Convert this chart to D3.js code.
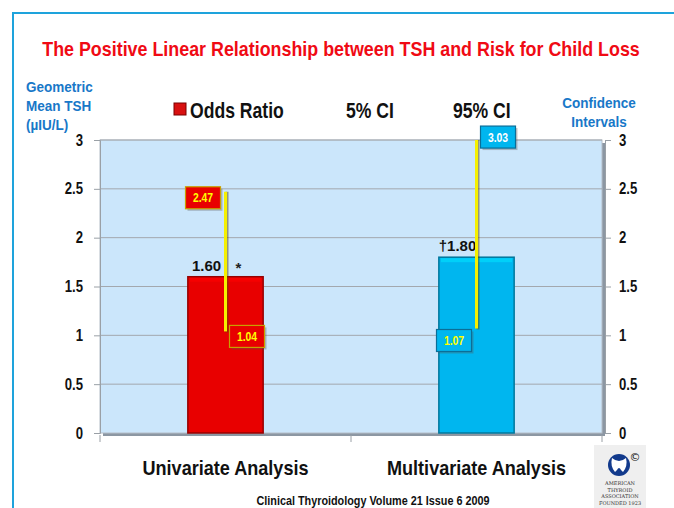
<!DOCTYPE html>
<html>
<head>
<meta charset="utf-8">
<script src="https://cdn.jsdelivr.net/npm/d3@7"></script>
<style>
  body { margin: 0; background: #fff; }
  svg { display: block; font-family: "Liberation Sans", Arial, sans-serif; }
</style>
</head>
<body>
<svg id="chart" width="674" height="508"></svg>
<script>
// chart values
const categories = ["Univariate Analysis", "Multivariate Analysis"];
const oddsRatio = [1.60, 1.80];
const ciLow = [1.04, 1.07];
const ciHigh = [2.47, 3.03];
const valueLabels = ["1.60", "\u20201.80"];
const barColors = ["#e80000", "#00b6ef"];
const yTicks = [0, 0.5, 1, 1.5, 2, 2.5, 3];
const legendItems = ["Odds Ratio", "5% CI", "95% CI"];

const svg = d3.select("svg#chart");
const W = 674, H = 508;
const margin = {top: 140, right: 72, bottom: 75, left: 100};
const plotW = W - margin.left - margin.right;  // 502
const plotH = H - margin.top - margin.bottom;  // 293

// squeeze text to look like the narrow font of the slide
function condense(sel, f) {
  sel.each(function() {
    const w = this.getComputedTextLength();
    d3.select(this).attr("textLength", w * f).attr("lengthAdjust", "spacingAndGlyphs");
  });
}

// outer slide frame
svg.append("path")
    .attr("d", "M13,508 L13,13 L674,13")
    .attr("fill", "none")
    .attr("stroke", "#1ea3dc")
    .attr("stroke-width", 2);

// title (scaled horizontally to the slide's narrow look)
const title = svg.append("text")
    .attr("text-anchor", "middle")
    .attr("font-size", 20).attr("font-weight", "bold")
    .attr("fill", "#f00a14")
    .text("The Positive Linear Relationship between TSH and Risk for Child Loss");
const tw = title.node().getComputedTextLength();
title.attr("transform", `translate(341,56) scale(${598 / tw},1)`);

// axis titles
const blue = "#1878c8";
svg.append("g")
    .attr("font-size", 15).attr("font-weight", "bold").attr("fill", blue)
  .selectAll("text")
  .data(["Geometric", "Mean TSH", "(\u00b5IU/L)"])
  .join("text")
    .attr("x", 26)
    .attr("y", (d, i) => 92 + i * 19)
    .text(d => d)
    .call(condense, 0.9);

svg.append("g")
    .attr("font-size", 15).attr("font-weight", "bold").attr("fill", blue)
    .attr("text-anchor", "middle")
  .selectAll("text")
  .data(["Confidence", "Intervals"])
  .join("text")
    .attr("x", 599)
    .attr("y", (d, i) => 108 + i * 19)
    .text(d => d)
    .call(condense, 0.9);

// scales
const x = d3.scaleBand()
    .domain(categories)
    .range([margin.left, margin.left + plotW])
    .padding(0);
const barW = x.bandwidth() * 0.3;
const y = d3.scaleLinear()
    .domain([0, 3])
    .range([margin.top + plotH, margin.top]);

// 3d-ish plot wall
const g = svg.append("g");
g.append("rect")
    .attr("x", margin.left + 3).attr("y", margin.top + 3)
    .attr("width", plotW).attr("height", plotH)
    .attr("fill", "#8c97a3");
g.append("rect")
    .attr("x", margin.left).attr("y", margin.top)
    .attr("width", plotW).attr("height", plotH)
    .attr("fill", "#cbe6fb")
    .attr("stroke", "#b4bec8").attr("stroke-width", 1);

// gridlines
g.selectAll("line.grid")
  .data(yTicks.slice(1))
  .join("line")
    .attr("class", "grid")
    .attr("x1", margin.left).attr("x2", margin.left + plotW)
    .attr("y1", d => y(d)).attr("y2", d => y(d))
    .attr("stroke", "#a3a8ae").attr("stroke-width", 1);

// left / right axes
const fmt = d => d;
const yLeft = svg.append("g")
    .attr("transform", `translate(${margin.left},0)`)
    .call(d3.axisLeft(y).tickValues(yTicks).tickFormat(fmt).tickSize(6).tickPadding(11));
const yRight = svg.append("g")
    .attr("transform", `translate(${margin.left + plotW + 3},0)`)
    .call(d3.axisRight(y).tickValues(yTicks).tickFormat(fmt).tickSize(6).tickPadding(8));
[yLeft, yRight].forEach(a => {
  a.select(".domain").attr("stroke", "#9aa0a6");
  a.selectAll(".tick line").attr("stroke", "#9aa0a6");
  a.selectAll(".tick text")
      .attr("font-family", "\"Liberation Sans\", Arial, sans-serif")
      .attr("font-size", 16).attr("font-weight", "bold").attr("fill", "#111")
      .call(condense, 0.82);
});

// bottom axis
const xAxis = svg.append("g")
    .attr("transform", `translate(0,${margin.top + plotH + 3})`)
    .call(d3.axisBottom(x).tickSize(0).tickPadding(24));
xAxis.select(".domain").remove();
xAxis.selectAll(".tick text")
    .attr("font-family", "\"Liberation Sans\", Arial, sans-serif")
    .attr("font-size", 21).attr("font-weight", "bold").attr("fill", "#111")
    .call(condense, 0.86);
svg.append("g").selectAll("line")
  .data([0, 1, 2])
  .join("line")
    .attr("x1", i => margin.left + i * x.step()).attr("x2", i => margin.left + i * x.step())
    .attr("y1", margin.top + plotH + 2).attr("y2", margin.top + plotH + 9)
    .attr("stroke", "#9aa0a6");

// bars
const bars = svg.append("g").selectAll("g")
  .data(categories.map((c, i) => ({c, i, v: oddsRatio[i], lo: ciLow[i], hi: ciHigh[i]})))
  .join("g");

bars.append("rect")
    .attr("x", d => x(d.c) + (x.bandwidth() - barW) / 2)
    .attr("y", d => y(d.v))
    .attr("width", barW)
    .attr("height", d => y(0) - y(d.v))
    .attr("fill", d => barColors[d.i])
    .attr("stroke", d => d3.color(barColors[d.i]).darker(1.2))
    .attr("stroke-width", 1.5);
bars.append("rect")
    .attr("x", d => x(d.c) + (x.bandwidth() - barW) / 2 + 2)
    .attr("y", d => y(d.v) + 1)
    .attr("width", barW - 4)
    .attr("height", 4)
    .attr("fill", d => d3.color(barColors[d.i]).brighter(0.6))
    .attr("opacity", 0.6);

// value labels
bars.append("text")
    .attr("x", d => x(d.c) + x.bandwidth() / 2 - 19)
    .attr("y", d => y(d.v) - 6)
    .attr("text-anchor", "middle")
    .attr("font-size", 15).attr("font-weight", "bold").attr("fill", "#111")
    .text(d => valueLabels[d.i]);
svg.append("text")
    .attr("x", x(categories[0]) + x.bandwidth() / 2 + 13)
    .attr("y", y(oddsRatio[0]) - 4)
    .attr("text-anchor", "middle")
    .attr("font-size", 15).attr("font-weight", "bold").attr("fill", "#222")
    .text("*");

// confidence interval lines
const cx = d => x(d.c) + x.bandwidth() / 2;
bars.append("line")
    .attr("x1", d => cx(d) + 1.5).attr("x2", d => cx(d) + 1.5)
    .attr("y1", d => y(Math.min(d.hi, 3))).attr("y2", d => y(d.lo) + 1)
    .attr("stroke", "#5a4a00").attr("stroke-width", 3).attr("opacity", 0.5);
bars.append("line")
    .attr("x1", d => cx(d)).attr("x2", d => cx(d))
    .attr("y1", d => y(Math.min(d.hi, 3))).attr("y2", d => y(d.lo))
    .attr("stroke", "#f5f000").attr("stroke-width", 3);

// CI label boxes
const boxW = 35, boxH = 22;
function ciBox(sel, key, side, dy, textColor) {
  const bx = d => side(d) < 0 ? cx(d) - 5 - boxW : cx(d) + 4;
  const by = d => y(Math.min(d[key], 3.06)) + dy(d) - boxH / 2;
  const b = sel.append("g");
  b.append("rect")
      .attr("x", d => bx(d) + 2).attr("y", d => by(d) + 2)
      .attr("width", boxW).attr("height", boxH)
      .attr("fill", "#555").attr("opacity", 0.35);
  b.append("rect")
      .attr("x", bx).attr("y", by)
      .attr("width", boxW).attr("height", boxH)
      .attr("fill", d => barColors[d.i])
      .attr("stroke", d => d.i === 0 ? "#c8a000" : "#0a6e98")
      .attr("stroke-width", 1.2);
  b.append("text")
      .attr("x", d => bx(d) + boxW / 2)
      .attr("y", d => by(d) + boxH / 2 + 4.5)
      .attr("text-anchor", "middle")
      .attr("font-size", 13).attr("font-weight", "bold")
      .attr("fill", textColor)
      .text(d => d3.format(".2f")(d[key]))
      .call(condense, 0.8);
}
ciBox(bars, "hi", d => d.i === 0 ? -1 : 1, d => d.i === 0 ? 6 : 0, d => d.i === 0 ? "#ffff00" : "#ffffff");
ciBox(bars, "lo", d => d.i === 0 ? 1 : -1, d => d.i === 0 ? 5 : 12, "#ffff00");

// legend row
const legend = svg.append("g").attr("font-size", 22).attr("font-weight", "bold").attr("fill", "#111");
legend.append("rect")
    .attr("x", 174).attr("y", 103).attr("width", 12).attr("height", 12)
    .attr("fill", "#d81010").attr("stroke", "#7a0000").attr("stroke-width", 1);
legend.selectAll("text")
  .data(legendItems)
  .join("text")
    .attr("x", (d, i) => [190, 346, 453][i])
    .attr("y", 118)
    .text(d => d)
    .call(condense, 0.8);

// footer
svg.append("text")
    .attr("x", 373).attr("y", 505)
    .attr("text-anchor", "middle")
    .attr("font-size", 12).attr("font-weight", "bold").attr("fill", "#111")
    .attr("textLength", 233).attr("lengthAdjust", "spacingAndGlyphs")
    .text("Clinical Thyroidology  Volume 21 Issue 6  2009");

// ATA logo
const logo = svg.append("g");
logo.append("rect").attr("x", 594).attr("y", 445).attr("width", 52).attr("height", 63).attr("fill", "#efefef");
logo.append("circle").attr("cx", 619).attr("cy", 465).attr("r", 11).attr("fill", "#123a8c");
logo.append("path")
    .attr("d", "M612,458 Q619,464 626,458 Q628,466 623,472 L621,470 Q619,466 617,470 L615,472 Q610,466 612,458 Z")
    .attr("fill", "#fff");
logo.append("text").attr("x", 635).attr("y", 461).attr("text-anchor", "middle")
    .attr("font-size", 11).attr("font-family", "\"DejaVu Sans\", sans-serif").attr("fill", "#111").text("\u00a9");
logo.append("g").attr("font-family", "\"DejaVu Serif\", serif").attr("font-size", 5).attr("fill", "#333")
  .selectAll("text")
  .data(["AMERICAN", "THYROID", "ASSOCIATION", "FOUNDED 1923"])
  .join("text")
    .attr("x", 620).attr("y", (d, i) => 485 + i * 6.5)
    .attr("text-anchor", "middle")
    .text(d => d);
</script>
</body>
</html>
